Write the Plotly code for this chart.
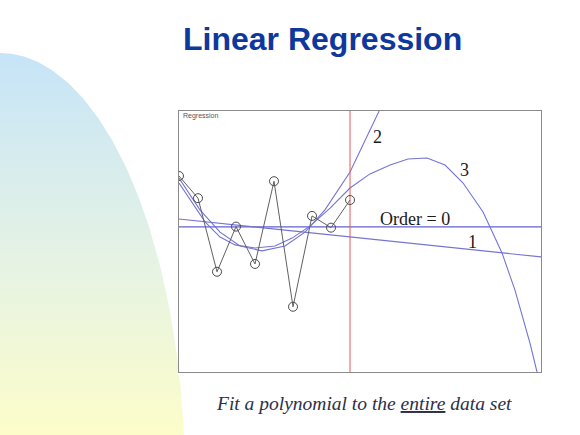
import numpy as np
import plotly.graph_objects as go

# ---- data (x = sample index, y in arbitrary units 0..10) ----
data_x = [0, 1, 2, 3, 4, 5, 6, 7, 8, 9]
data_y = [7.51, 6.66, 3.84, 5.57, 4.14, 7.31, 2.50, 5.98, 5.53, 6.59]

order0_x = [0, 19.05]
order0_y = [5.56, 5.56]

order1_x = [0, 19.05]
order1_y = [5.86, 4.41]

order2_x = [0, 1.1, 2.16, 3.21, 4.37, 5.58, 6.63, 7.68, 9.0, 9.79, 10.53]
order2_y = [7.43, 6.21, 5.36, 4.83, 4.64, 4.83, 5.36, 6.21, 7.66, 8.89, 10.0]

order3_x = [0, 0.58, 1.37, 2.16, 2.95, 4.0, 5.05, 5.95, 6.89, 7.95, 9.0, 10.05,
            11.11, 12.05, 13.05, 14.0, 14.95, 16.0, 16.37, 17.0, 17.68, 18.1, 18.47, 18.84]
order3_y = [7.24, 6.59, 5.75, 5.17, 4.87, 4.75, 4.83, 5.13, 5.59, 6.28, 7.05, 7.59,
            7.93, 8.16, 8.20, 7.93, 7.24, 6.13, 5.56, 4.56, 3.14, 2.11, 1.11, 0.0]

data_end_x = 9

labels_text = ["2", "3", "Order = 0", "1"]
labels_x = [10.42, 15.0, 12.42, 15.47]
labels_y = [9.0, 7.74, 5.86, 4.98]

W, H = 580, 435
CURVE = "#7474d4"

fig = go.Figure()

# ---- decorative background shape (slide design), in pixel space ----
t = np.linspace(0, np.arccos((480 - 435) / 427.0), 80)
ex = 185 * np.sin(t)
ey_px = 480 - 427 * np.cos(t)
ex = np.where((ey_px > 105) & (ey_px < 375), np.minimum(ex, 178), ex)
bx = np.concatenate([[0], ex, [0]])
by = np.concatenate([[H - 53], H - ey_px, [0]])
fig.add_trace(go.Scatter(
    x=bx, y=by, mode="lines", line=dict(width=0), fill="toself",
    fillgradient=dict(type="vertical",
                      colorscale=[[0, "#fdfdca"], [0.45, "#e6f3e4"], [1, "#c6e4f8"]],
                      start=0, stop=H - 53),
    xaxis="x", yaxis="y", hoverinfo="skip", showlegend=False))

# ---- main chart on x2/y2 ----
fig.add_trace(go.Scatter(x=order0_x, y=order0_y, mode="lines",
                         line=dict(color="#6060d0", width=1.1), xaxis="x2", yaxis="y2"))
fig.add_trace(go.Scatter(x=order1_x, y=order1_y, mode="lines",
                         line=dict(color=CURVE, width=1.1), xaxis="x2", yaxis="y2"))
fig.add_trace(go.Scatter(x=order2_x, y=order2_y, mode="lines",
                         line=dict(color=CURVE, width=1.1), xaxis="x2", yaxis="y2"))
fig.add_trace(go.Scatter(x=order3_x, y=order3_y, mode="lines",
                         line=dict(color=CURVE, width=1.1), xaxis="x2", yaxis="y2"))
fig.add_trace(go.Scatter(x=[data_end_x, data_end_x], y=[0, 10], mode="lines",
                         line=dict(color="#e05a5a", width=1), xaxis="x2", yaxis="y2"))
fig.add_trace(go.Scatter(x=data_x, y=data_y, mode="lines+markers",
                         line=dict(color="#606060", width=1),
                         marker=dict(symbol="circle-open", size=9, color="#4a4a4a",
                                     line=dict(width=1)),
                         xaxis="x2", yaxis="y2"))

for txt, lx, ly in zip(labels_text, labels_x, labels_y):
    fig.add_annotation(x=lx, y=ly, xref="x2", yref="y2", text=txt, showarrow=False,
                       font=dict(family="Liberation Serif, Times New Roman, serif",
                                 size=18, color="#1a1a1a"))

fig.add_annotation(x=181 / W, y=1 - 116 / H, xref="paper", yref="paper",
                   text="Regression", showarrow=False, xanchor="left", yanchor="middle",
                   font=dict(family="Liberation Sans, Arial, sans-serif", size=7, color="#555555"))

fig.add_annotation(x=323 / W, y=1 - 39 / H, xref="paper", yref="paper",
                   text="<b>Linear Regression</b>", showarrow=False,
                   xanchor="center", yanchor="middle",
                   font=dict(family="Liberation Sans Narrow, Arial Narrow, Liberation Sans, sans-serif",
                             size=32, color="#0e389c"))

fig.add_annotation(x=364 / W, y=1 - 403 / H, xref="paper", yref="paper",
                   text="<i>Fit a polynomial to the <u>entire</u> data set</i>", showarrow=False,
                   xanchor="center", yanchor="middle",
                   font=dict(family="Liberation Serif, Times New Roman, serif",
                             size=19.5, color="#2b2f4a"))

fig.update_layout(
    width=W, height=H, margin=dict(l=0, r=0, t=0, b=0),
    paper_bgcolor="white", plot_bgcolor="white", showlegend=False, hovermode=False,
    xaxis=dict(domain=[0, 1], range=[0, W], visible=False, fixedrange=True),
    yaxis=dict(domain=[0, 1], range=[0, H], visible=False, fixedrange=True),
    xaxis2=dict(domain=[179 / W, 541 / W], range=[0, 19.05], anchor="y2",
                showgrid=False, zeroline=False, showticklabels=False, ticks="",
                showline=True, mirror=True, linecolor="#8a8a8a", linewidth=1),
    yaxis2=dict(domain=[1 - 372 / H, 1 - 111 / H], range=[0, 10], anchor="x2",
                showgrid=False, zeroline=False, showticklabels=False, ticks="",
                showline=True, mirror=True, linecolor="#8a8a8a", linewidth=1),
)

fig.write_html("out.html", config={"displayModeBar": False},
               post_script="document.body.style.margin='0px';document.body.style.overflow='hidden';")
